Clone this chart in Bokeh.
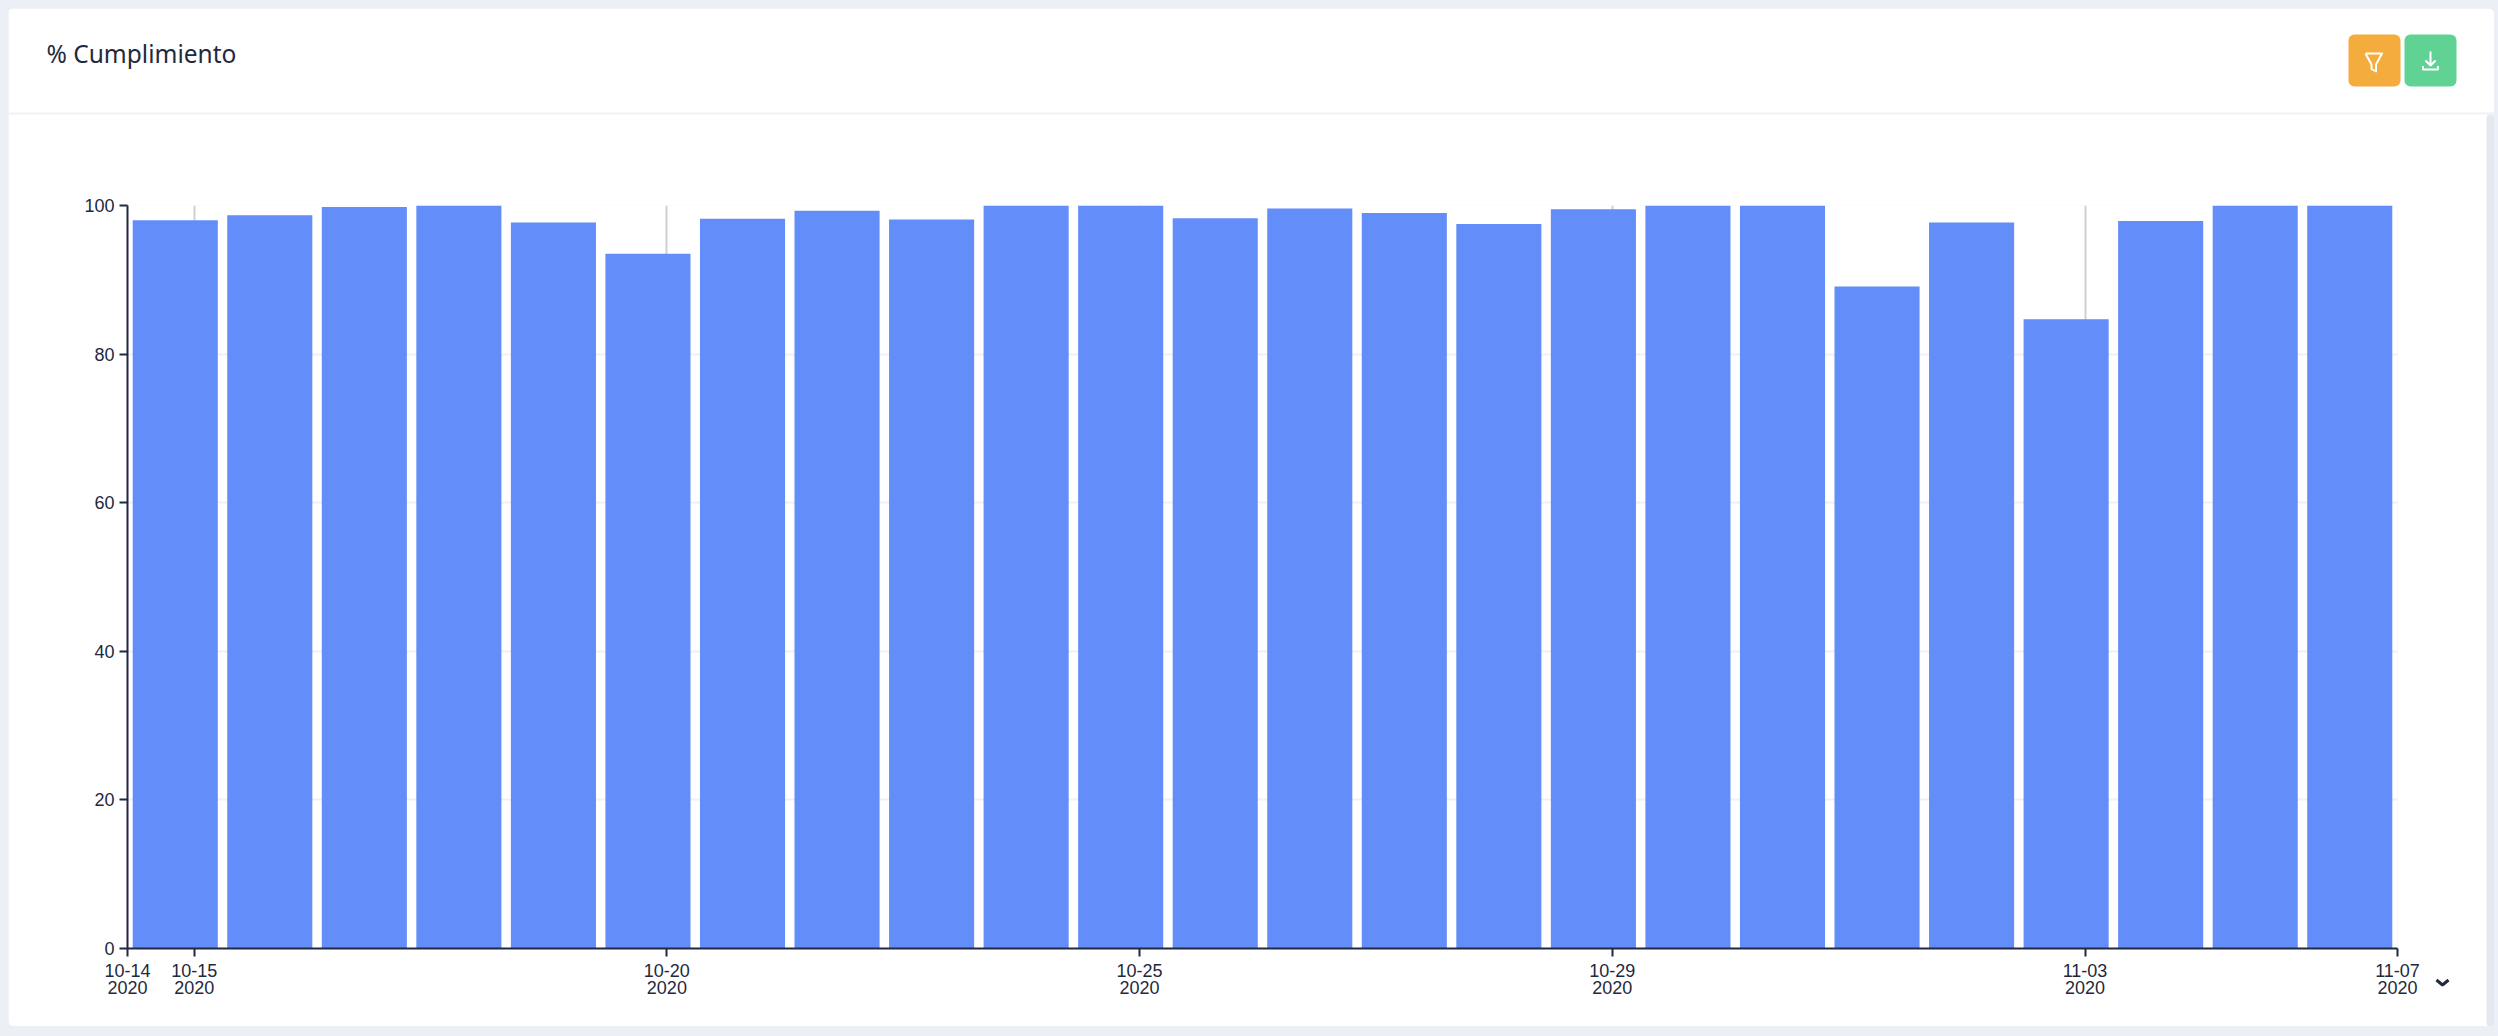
from bokeh.plotting import figure
from bokeh.layouts import column
from bokeh.models import (BoxAnnotation, Label, Range1d, FixedTicker,
                          ColumnDataSource, LinearAxis)
from bokeh.embed import file_html
from bokeh.resources import INLINE

# ---- data -------------------------------------------------------------
day_index = list(range(24))
cumplimiento = [98.0, 98.7, 99.8, 100, 97.7, 93.5, 98.2, 99.3, 98.1, 100, 100, 98.3,
                99.6, 99.0, 97.5, 99.5, 100, 100, 89.1, 97.7, 84.7, 97.9, 100, 100]
x_tick_pos = [-0.505, 0.2, 5.2, 10.2, 15.2, 20.2, 23.505]
x_tick_dates = ["10-14", "10-15", "10-20", "10-25", "10-29", "11-03", "11-07"]
x_tick_years = ["2020"] * 7
y_ticks = [0, 20, 40, 60, 80, 100]
title_text = "% Cumplimiento"

# ---- style ------------------------------------------------------------
PAGE_BG = "#ecf0f6"
INK = "#1f2940"
BAR = "#638df8"
W, H = 2486, 1018

p = figure(width=W, height=H, output_backend="svg", toolbar_location=None,
           x_range=Range1d(-0.505, 23.505), y_range=Range1d(0, 100),
           min_border_left=119, min_border_right=97, min_border_top=197, min_border_bottom=78,
           frame_width=2270, frame_height=743, frame_align=False,
           border_fill_color="#ffffff", background_fill_color="#ffffff", outline_line_color=None,
           styles={"border-radius": "6px", "overflow": "hidden"})

# bars
src = ColumnDataSource(dict(x=day_index, top=cumplimiento))
p.vbar(x="x", top="top", bottom=0, width=0.9, source=src, fill_color=BAR, line_color=None)

# axes
year_axis = LinearAxis()
p.add_layout(year_axis, "below")
for ax in (p.xaxis[0], p.yaxis[0]):
    ax.axis_line_color = INK
    ax.axis_line_width = 2
    ax.major_tick_line_color = INK
    ax.major_tick_line_width = 2
    ax.major_tick_in = 0
    ax.major_tick_out = 8
    ax.minor_tick_line_color = None
    ax.major_label_text_color = INK
    ax.major_label_text_font = "Liberation Sans"
    ax.major_label_text_font_size = "18px"

p.xaxis[0].ticker = FixedTicker(ticks=x_tick_pos)
p.xaxis[0].major_label_overrides = dict(zip(x_tick_pos, x_tick_dates))
p.xaxis[0].major_label_standoff = 7
p.yaxis[0].ticker = FixedTicker(ticks=y_ticks)
p.yaxis[0].major_label_standoff = 5

year_axis.ticker = FixedTicker(ticks=x_tick_pos)
year_axis.major_label_overrides = dict(zip(x_tick_pos, x_tick_years))
year_axis.axis_line_color = None
year_axis.major_tick_line_color = None
year_axis.minor_tick_line_color = None
year_axis.major_tick_in = 0
year_axis.major_tick_out = 0
year_axis.major_label_standoff = 1
year_axis.major_label_text_color = INK
year_axis.major_label_text_font = "Liberation Sans"
year_axis.major_label_text_font_size = "18px"

p.xgrid[0].grid_line_color = "#cfcfd2"
p.xgrid[0].grid_line_width = 2
p.xgrid[0].ticker = FixedTicker(ticks=x_tick_pos)
p.ygrid[0].grid_line_color = "#f0f0f6"
p.ygrid[0].grid_line_width = 2
p.ygrid[0].ticker = FixedTicker(ticks=y_ticks)

# ---- transparent overlay for the card furniture, in picture pixels -----
o = figure(width=W, height=H, output_backend="svg", toolbar_location=None,
           x_range=Range1d(8, 8 + W), y_range=Range1d(8 + H, 8),
           min_border=0, frame_width=W, frame_height=H, frame_align=False,
           border_fill_color=None, background_fill_color=None,
           outline_line_color=None, margin=(-H, 0, 0, 0))
o.xaxis.visible = False
o.yaxis.visible = False
o.xgrid.visible = False
o.ygrid.visible = False


def box(l, r, t, b, color, radius=0):
    o.add_layout(BoxAnnotation(left=l, right=r, top=t, bottom=b, fill_color=color, fill_alpha=1,
                               line_color=None, border_radius=radius, level="underlay"))


box(8, 2494, 112, 114, "#eef1f6")
box(2486, 2494, 114, 1026, "#e4e8f1", 4)
box(2348, 2400, 34, 86, "#f4ac3d", 6)
box(2404, 2456, 34, 86, "#60d394", 6)

# funnel, download and chevron icons
o.line([2365, 2381.5, 2375.5, 2375.5, 2371, 2371, 2365], [53, 53, 64, 71, 68.5, 64, 53],
       line_color="#ffffff", line_width=2, line_join="round")
o.line([2430, 2430], [51, 65], line_color="#ffffff", line_width=2)
o.line([2425, 2430, 2435], [60, 65, 60], line_color="#ffffff", line_width=2)
o.line([2422.5, 2422.5, 2437.5, 2437.5], [65.5, 69, 69, 65.5], line_color="#ffffff", line_width=2)
o.line([2436, 2442, 2448], [979.5, 984.5, 979.5], line_color=INK, line_width=3)

o.add_layout(Label(x=46, y=53, text=title_text, text_font="'Noto Sans Medium','Noto Sans'",
                   text_font_size="24.5px", text_color=INK, text_baseline="alphabetic"))

html = file_html(column(p, o, spacing=0), INLINE)
css = ("<style>html{overflow:hidden;background:%s}"
       "body{margin:8px 0 0 8px !important;background:%s}</style></head>" % (PAGE_BG, PAGE_BG))
html = html.replace("</head>", css, 1)
open("out.html", "w").write(html)
